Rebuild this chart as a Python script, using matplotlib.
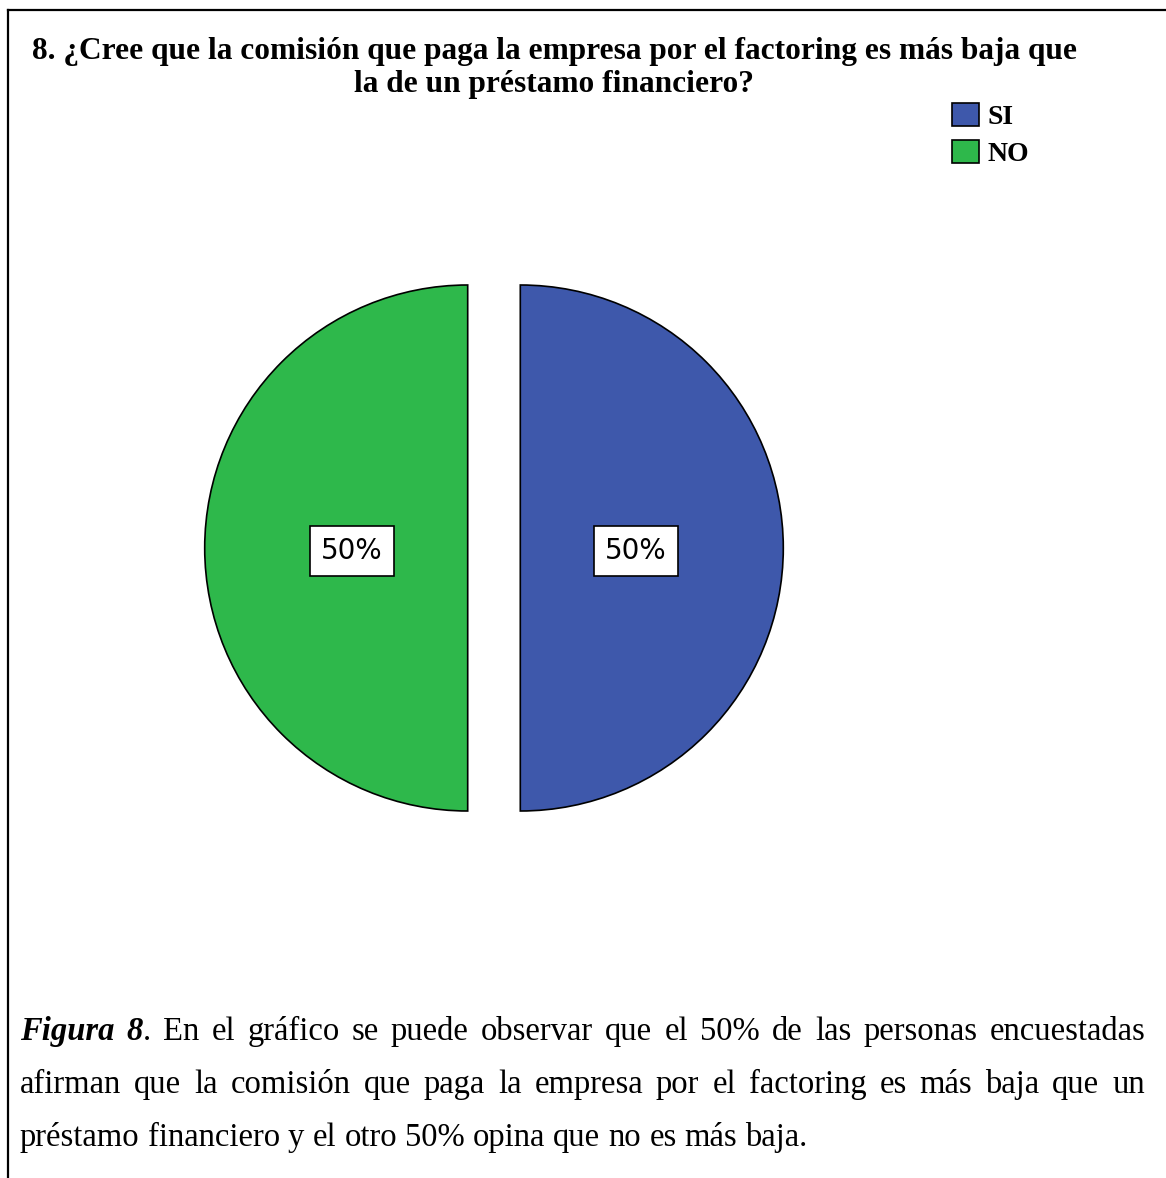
import matplotlib
matplotlib.use("Agg")
import matplotlib.pyplot as plt
from matplotlib.lines import Line2D

# datos del gráfico
categorias = ["SI", "NO"]
porcentajes = [50, 50]
colores = ["#3e58ab", "#2eb84b"]

titulo = ("8. ¿Cree que la comisión que paga la empresa por el factoring es más baja que\n"
          "la de un préstamo financiero?")

lineas_texto = [
    "Figura 8. En el gráfico se puede observar que el 50% de las personas encuestadas",
    "afirman que la comisión que paga la empresa por el factoring es más baja que un",
    "préstamo financiero y el otro 50% opina que no es más baja.",
]

W, H = 1166, 1178
fig = plt.figure(figsize=(W / 100, H / 100), dpi=100)

def fx(px):
    return px / W

def fy(py):
    return 1 - py / H

# marco (solo izquierda y arriba visibles)
fig.add_artist(Line2D([fx(8), fx(8)], [fy(10), 0], color="black", lw=1.6))
fig.add_artist(Line2D([fx(8), 1], [fy(10), fy(10)], color="black", lw=1.6))

# titulo
fig.text(fx(554), fy(37), titulo, ha="center", va="top", fontsize=22.6,
         fontweight="bold", family="Liberation Serif", linespacing=1.17)

# pastel
R = 263
cx, cy = 494, 548
lado = 2.2 * R
ax = fig.add_axes([fx(cx - lado / 2), fy(cy + lado / 2), lado / W, lado / H])
wedges, textos, autotextos = ax.pie(
    porcentajes, colors=colores, startangle=90, counterclock=False,
    explode=[0.1, 0.1], autopct="%1.0f%%", pctdistance=0.44,
    wedgeprops=dict(edgecolor="black", linewidth=1.2),
    textprops=dict(fontsize=20, family="DejaVu Sans"))
for t in autotextos:
    x0, y0 = t.get_position()
    t.set_y(y0 - 0.012)
    t.set_bbox(dict(boxstyle="square,pad=0.4", facecolor="white",
                    edgecolor="black", linewidth=1.2))
ax.set_xlim(-1.1, 1.1)
ax.set_ylim(-1.1, 1.1)
ax.axis("off")

fig.legend(wedges, categorias, loc="upper left",
           bbox_to_anchor=(fx(952), fy(103)), frameon=False,
           prop=dict(family="Liberation Serif", weight="bold", size=20),
           handlelength=0.97, handleheight=0.9, handletextpad=0.3,
           labelspacing=0.35, borderpad=0, borderaxespad=0)

# texto al pie, justificado
renderer = fig.canvas.get_renderer()
izq, der = 20, 1145
bases = [1040, 1093, 1146]
tam = 23.5

def ancho(t):
    return t.get_window_extent(renderer).width

for i, linea in enumerate(lineas_texto):
    palabras = linea.split(" ")
    piezas = []
    for j, p in enumerate(palabras):
        if i == 0 and j == 0:
            segs = [(p, "bold", "italic")]
        elif i == 0 and j == 1:
            segs = [("8", "bold", "italic"), (".", "normal", "normal")]
        else:
            segs = [(p, "normal", "normal")]
        objs = []
        for s, w, st in segs:
            objs.append(fig.text(0, fy(bases[i]), s, fontsize=tam, family="Liberation Serif",
                                 fontweight=w, fontstyle=st, va="baseline", ha="left"))
        piezas.append(objs)
    anchos = [sum(ancho(o) for o in objs) for objs in piezas]
    if i < len(lineas_texto) - 1:
        hueco = (der - izq - sum(anchos)) / (len(piezas) - 1)
    else:
        esp = fig.text(0, 0, "a b", fontsize=tam, family="Liberation Serif")
        esp2 = fig.text(0, 0, "ab", fontsize=tam, family="Liberation Serif")
        hueco = ancho(esp) - ancho(esp2)
        esp.remove()
        esp2.remove()
    x = izq
    for objs, a in zip(piezas, anchos):
        xx = x
        for o in objs:
            o.set_x(fx(xx))
            xx += ancho(o)
        x += a + hueco

fig.savefig("out.png", dpi=100)
